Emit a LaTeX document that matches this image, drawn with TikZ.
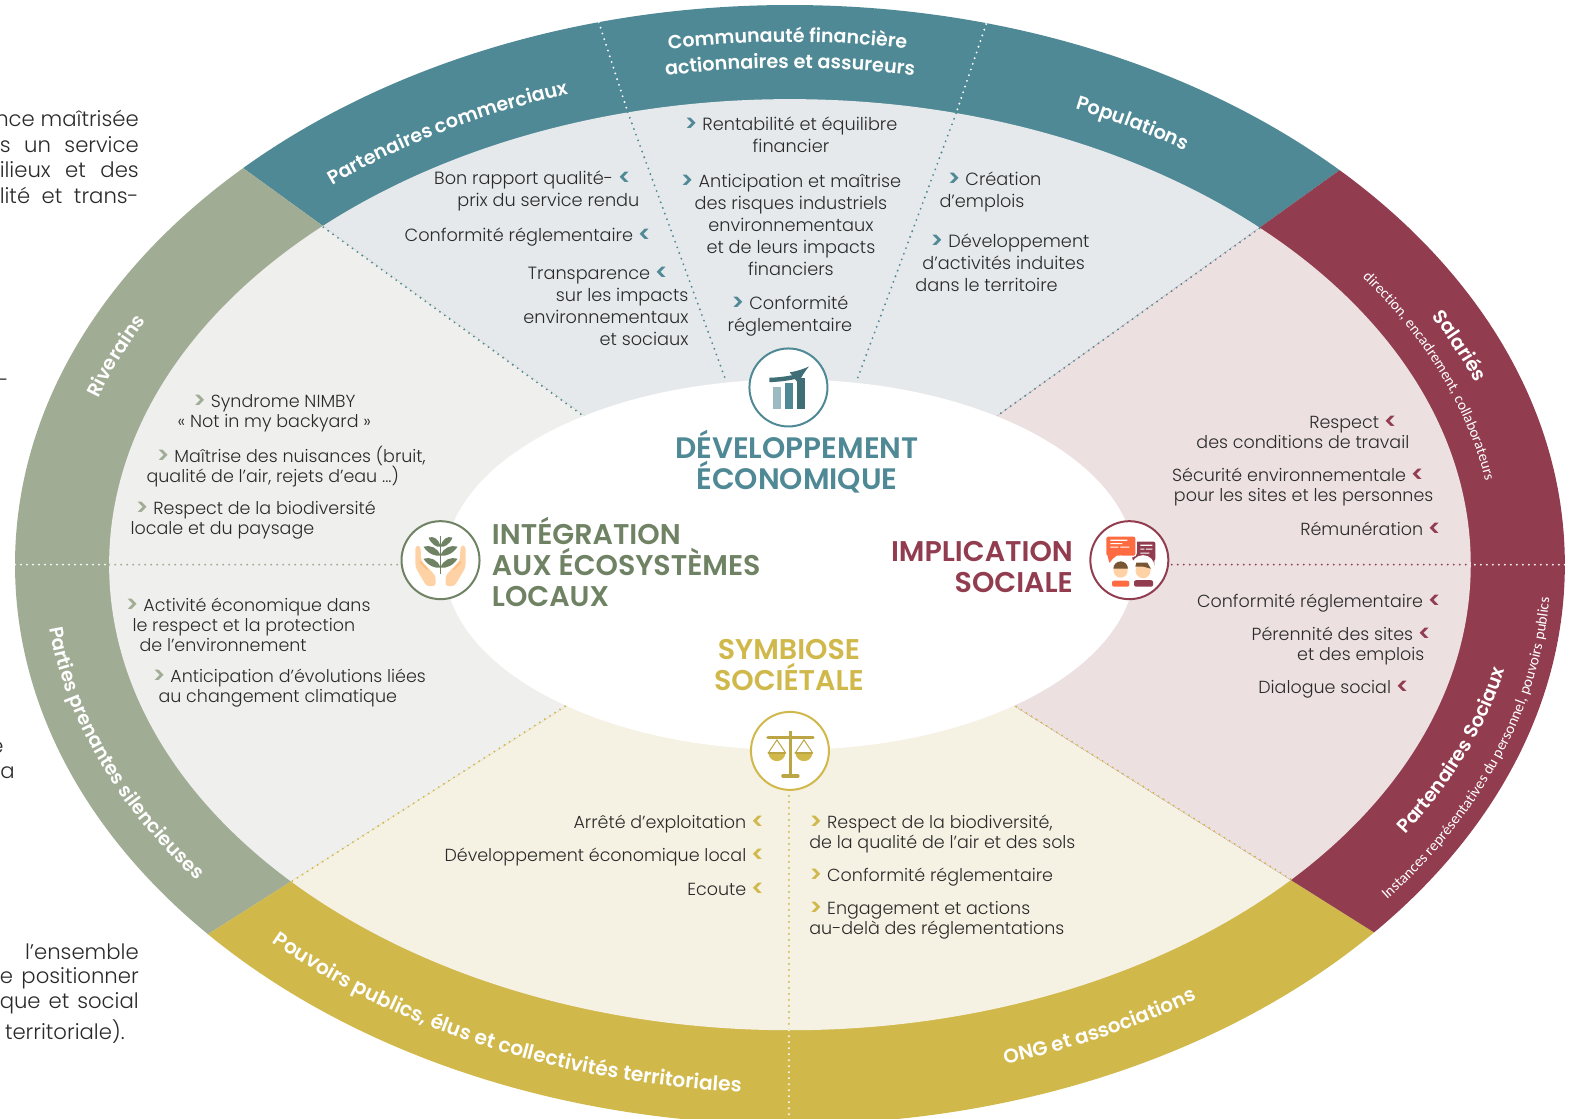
\documentclass[tikz,border=0pt]{standalone}
\usepackage{fontspec}
\setmainfont{Poppins}[UprightFont=* Light,BoldFont=* SemiBold]
\newfontfamily\narrowfont{Carlito}
\usepackage{tikz}
\usetikzlibrary{decorations.text,arrows}
\definecolor{devcol}{HTML}{4F8995}
\definecolor{ecocol}{HTML}{A1AC95}
\definecolor{ecodark}{HTML}{6F8263}
\definecolor{soccol}{HTML}{923D4F}
\definecolor{symcol}{HTML}{D0B84B}
\definecolor{devzone}{HTML}{E6E9EC}
\definecolor{ecozone}{HTML}{EFEFED}
\definecolor{soczone}{HTML}{ECE0E1}
\definecolor{symzone}{HTML}{F5F1E3}
\definecolor{bodytxt}{HTML}{2A2A2A}
\tikzset{
  toptxt/.style={font={\fontsize{8.85}{11}\selectfont},text=bodytxt,inner sep=0pt},
  restxt/.style={font={\fontsize{8.75}{10}\selectfont},text=bodytxt,inner sep=0pt},
  sidetxt/.style={font={\fontsize{10.6}{10}\selectfont},text=bodytxt,inner sep=0pt,anchor=east},
  headtxt/.style={font={\fontsize{14.25}{15.5}\selectfont\bfseries},inner sep=0pt},
  ring/.style={circle,draw,line width=1pt,fill=white,minimum size=39pt,inner sep=0pt},
  dotline/.style={line width=1.05pt,line cap=round,dash pattern=on 0pt off 3pt}
}
\newcommand{\mk}[2]{{\color{#1}\fontsize{11.5}{0}\bfseries\selectfont\raisebox{-0.5pt}{#2}}}
\newcommand{\sidefit}[1]{\hbox to 69.5pt{#1}}
% a: x radius, b: y radius, then angles, size, text
\newcommand{\bandlabel}[7][\bfseries]{%
  \def\curfont{\color{white}\fontsize{#6}{#6}#1\selectfont}%
  \path[decorate,decoration={text along path,text align=center,text={|\curfont|#7}}]
    (ctr) ++(#4:#2 and #3) arc[start angle=#4,end angle=#5,x radius=#2,y radius=#3];}
\begin{document}
\begin{tikzpicture}[x=0.5006pt,y=-0.5006pt,>=latex]
  \useasboundingbox (0pt,0pt) rectangle (785pt,-559.5pt);
  \coordinate (ctr) at (789,564);
  \coordinate (farUL) at (-303,-228);
  \coordinate (farUR) at (1887,-224);
  \coordinate (farLL) at (-373,1302);
  \coordinate (farLR) at (1955,1298);
  % the four sectors
  \foreach \ptA/\ptB/\bandcol/\zonecol in {farUL/farUR/devcol/devzone,farLL/farUL/ecocol/ecozone,farLL/farLR/symcol/symzone,farUR/farLR/soccol/soczone}{
    \begin{scope}
      \clip (ctr) -- (\ptA) -- (\ptB) -- cycle;
      \fill[\bandcol] (ctr) ellipse[x radius=774,y radius=559];
      \fill[\zonecol] (ctr) ellipse[x radius=680,y radius=465];
    \end{scope}
  }
  \fill[white] (ctr) ellipse[x radius=345,y radius=185];

  % icon rings
  \node[ring,draw=devcol] (icoDev) at (787.5,387) {};
  \node[ring,draw=ecodark] (icoEco) at (440,559.5) {};
  \node[ring,draw=soccol] (icoSoc) at (1128,559.5) {};
  \node[ring,draw=symcol] (icoSym) at (789,750) {};

  % dotted separators
  \coordinate (ulM) at (323,227); \coordinate (ulI) at (582,415);
  \coordinate (urM) at (1258,228); \coordinate (urI) at (995,416);
  \coordinate (llM) at (292,880); \coordinate (llI) at (568,703);
  \coordinate (lrM) at (1289,878); \coordinate (lrI) at (1012,704);
  \coordinate (t1O) at (598,22); \coordinate (t1M) at (627,112); \coordinate (t1I) at (725,380);
  \coordinate (t2O) at (985,24); \coordinate (t2M) at (955,113); \coordinate (t2I) at (855,382);
  \coordinate (hlO) at (15,564); \coordinate (hlM) at (109,564);
  \coordinate (hrO) at (1563,564); \coordinate (hrM) at (1470,564);
  \coordinate (vtM) at (788,1029); \coordinate (vtO) at (788,1119);
  \draw[dotline,devcol] (ulM) -- (ulI);
  \draw[dotline,devcol] (urM) -- (urI);
  \draw[dotline,symcol] (llM) -- (llI);
  \draw[dotline,symcol] (lrM) -- (lrI);
  \draw[dotline,white] (t1O) -- (t1M);
  \draw[dotline,devcol] (t1M) -- (t1I);
  \draw[dotline,white] (t2O) -- (t2M);
  \draw[dotline,devcol] (t2M) -- (t2I);
  \draw[dotline,white] (hlO) -- (hlM);
  \draw[dotline,ecocol] (hlM) -- (icoEco.west |- hlM);
  \draw[dotline,white] (hrO) -- (hrM);
  \draw[dotline,soccol] (hrM) -- (icoSoc.east |- hrM);
  \draw[dotline,symcol] (vtM |- icoSym.south) ++(0,5) -- (vtM);
  \draw[dotline,white] (vtM) -- (vtO);

  % band labels
  \bandlabel{710}{495}{213.7}{265.7}{9.6}{Partenaires commerciaux}
  \bandlabel{737}{522}{249.8}{289.8}{9.5}{Communauté financière}
  \bandlabel{711}{496}{250}{290}{9.6}{actionnaires et assureurs}
  \bandlabel{712}{497}{285}{313}{9.7}{Populations}
  \bandlabel{730}{515}{188}{218}{9.7}{Riverains}
  \bandlabel{745}{520}{186}{132}{9.6}{Parties prenantes silencieuses}
  \bandlabel{740}{528}{146}{84}{10.1}{Pouvoirs publics, élus et collectivités territoriales}
  \bandlabel{732}{522}{84}{44}{9.9}{ONG et associations}
  \bandlabel{731}{516}{320}{352}{9.7}{Salariés}
  \bandlabel[\narrowfont]{705}{490}{302.7}{376.7}{7.55}{direction, encadrement, collaborateurs}
  \bandlabel{730}{500}{43.8}{-1.2}{9.6}{Partenaires{\ }Sociaux}
  \bandlabel[\narrowfont]{760}{540}{57.8}{-20.2}{7.6}{Instances représentatives du personnel, pouvoirs publics}

  % sector headings
  \node[headtxt,text=devcol,align=center,font={\fontsize{14.8}{15.5}\selectfont\bfseries}] (headDev) at (796,461) {DÉVELOPPEMENT\\ÉCONOMIQUE};
  \node[headtxt,text=ecodark,align=left,anchor=west] (headEco) at (491,561.5) {INTÉGRATION\\AUX ÉCOSYSTÈMES\\LOCAUX};
  \node[headtxt,text=soccol,align=right,anchor=east] (headSoc) at (1072,566) {IMPLICATION\\SOCIALE};
  \node[headtxt,text=symcol,align=center] (headSym) at (788,664) {SYMBIOSE\\SOCIÉTALE};

  % economic development
  \node[toptxt,align=center] (rentab) at (790,135) {\mk{devcol}{>} Rentabilité et équilibre\\financier};
  \node[toptxt,align=center] (anticip) at (790,225) {\mk{devcol}{>} Anticipation et maîtrise\\des risques industriels\\environnementaux\\et de leurs impacts\\financiers};
  \node[toptxt,align=center] (confDev) at (789,316) {\mk{devcol}{>} Conformité\\réglementaire};
  \node[toptxt,align=left,anchor=west] (creation) at (938,192) {\hspace*{4pt}\mk{devcol}{>} Création\\d'emplois};
  \node[toptxt,align=left,anchor=west] (activ) at (914,262) {\hspace*{7.5pt}\mk{devcol}{>} Développement\\\hspace*{3.5pt}d'activités induites\\dans le territoire};
  \node[toptxt,align=right,anchor=east] (rapport) at (639,191) {Bon rapport qualité- \mk{devcol}{<}\hspace*{4pt}\\prix du service rendu};
  \node[toptxt,anchor=east] (confCom) at (651,237) {Conformité réglementaire \mk{devcol}{<}};
  \node[toptxt,align=right,anchor=east] (transp) at (688,306) {Transparence \mk{devcol}{<}\hspace*{10pt}\\sur les impacts\hspace*{8pt}\\environnementaux\hspace*{4pt}\\et sociaux};

  % local ecosystems
  \node[restxt,align=center] (nimby) at (274,413) {\mk{ecocol}{>} Syndrome NIMBY\\« Not in my backyard »};
  \node[restxt,align=left,anchor=west] (nuis) at (146,466) {\hspace*{5pt}\mk{ecocol}{>} Maîtrise des nuisances (bruit,\\qualité de l'air, rejets d'eau ...)};
  \node[restxt,align=left,anchor=west] (biodiv) at (130,519) {\hspace*{2.5pt}\mk{ecocol}{>} Respect de la biodiversité\\locale et du paysage};
  \node[restxt,align=left,anchor=west] (activEco) at (125,624) {\mk{ecocol}{>} Activité économique dans\\\hspace*{3.5pt}le respect et la protection\\\hspace*{7pt}de l'environnement};
  \node[restxt,align=left,anchor=west] (climat) at (152,687) {\mk{ecocol}{>} Anticipation d'évolutions liées\\\hspace*{3pt}au changement climatique};

  % social involvement
  \node[restxt,align=right,anchor=east] (travail) at (1408,432) {Respect \mk{soccol}{<}\hspace*{6pt}\\des conditions de travail};
  \node[restxt,align=right,anchor=east] (secur) at (1432,486) {Sécurité environnementale \mk{soccol}{<}\hspace*{4.5pt}\\pour les sites et les personnes};
  \node[restxt,anchor=east] (remun) at (1440,529) {Rémunération \mk{soccol}{<}};
  \node[restxt,anchor=east] (confSoc) at (1440,602) {Conformité réglementaire \mk{soccol}{<}};
  \node[restxt,align=right,anchor=east] (perenn) at (1430,645) {Pérennité des sites \mk{soccol}{<}\\et des emplois\hspace*{3.5pt}};
  \node[restxt,anchor=east] (dialog) at (1408,688) {Dialogue social \mk{soccol}{<}};

  % societal symbiosis
  \node[restxt,anchor=east] (arrete) at (764,823) {Arrêté d'exploitation \mk{symcol}{<}};
  \node[restxt,anchor=east] (devloc) at (764,856) {Développement économique local \mk{symcol}{<}};
  \node[restxt,anchor=east] (ecoute) at (764,889) {Ecoute \mk{symcol}{<}};
  \node[restxt,align=left,anchor=west] (respSym) at (808,833) {\mk{symcol}{>} Respect de la biodiversité,\\de la qualité de l'air et des sols};
  \node[restxt,anchor=west] (confSym) at (808,876) {\mk{symcol}{>} Conformité réglementaire};
  \node[restxt,align=left,anchor=west] (engag) at (808,919) {\mk{symcol}{>} Engagement et actions\\au-delà des réglementations};

  % text of the page cut by the picture
  \node[sidetxt] (sideA) at (139,118) {nce maîtrisée};
  \node[sidetxt] (sideB) at (139,144) {\sidefit{s\hfill un\hfill service}};
  \node[sidetxt] (sideC) at (139,169) {\sidefit{ilieux\hfill et\hfill des}};
  \node[sidetxt] (sideD) at (139,195) {\sidefit{lité\hfill et\hfill trans-}};
  \node[sidetxt] (sideE) at (9,381) {u-};
  \node[sidetxt] (sideF) at (4,745) {é};
  \node[sidetxt] (sideG) at (15,770) {la};
  \node[sidetxt] (sideH) at (139,951) {l'ensemble};
  \node[sidetxt] (sideI) at (139,977) {\sidefit{e\hfill positionner}};
  \node[sidetxt] (sideJ) at (139,1002) {\sidefit{que\hfill et\hfill social}};
  \node[sidetxt] (sideK) at (125,1030) {territoriale).};

  % growth chart
  \fill[black!5!devcol!55!white] (771.7,386.7) rectangle (780,409);
  \fill[devcol] (784,382.3) rectangle (791.7,409);
  \fill[devcol!80!black] (796,377.7) rectangle (803.7,409);
  \draw[devcol!80!black,line width=2.2pt,->] (768.5,379.5) .. controls (785,379) and (795,376) .. (808,366);

  % plant in hands
  \draw[ecodark,line width=0.8pt] (440,535) -- (440,573);
  \foreach \ly/\ls in {540/0.6,549/0.85,561/0.85}{
    \fill[ecodark] (440,\ly+6) .. controls (440-6*\ls,\ly+7) and (440-15*\ls,\ly+4) .. (440-20*\ls,\ly-3) .. controls (440-12*\ls,\ly-5) and (440-3*\ls,\ly-2) .. cycle;
    \fill[ecodark] (440,\ly+6) .. controls (440+6*\ls,\ly+7) and (440+15*\ls,\ly+4) .. (440+20*\ls,\ly-3) .. controls (440+12*\ls,\ly-5) and (440+3*\ls,\ly-2) .. cycle;
  }
  \foreach \sgn in {-1,1}{
    \fill[orange!35!white,rounded corners=1.5pt] (440+\sgn*25,545) -- (440+\sgn*20,545) -- (440+\sgn*19.3,560) -- (440+\sgn*5,575) -- (440+\sgn*5,585.5) -- (440+\sgn*14,585.5) -- (440+\sgn*25,566.7) -- cycle;
    \draw[orange!55!white,line width=0.6pt] (440+\sgn*20.5,561) -- (440+\sgn*13,569);
  }

  % two people talking
  \fill[soccol,rounded corners=1pt] (1131,541) rectangle (1154,560);
  \fill[soccol] (1146,559) -- (1153,565) -- (1153,559) -- cycle;
  \fill[white] (1139,544) rectangle (1151,545.2) (1139,548) rectangle (1143,549) (1144.5,548) rectangle (1151,549) (1139,552) rectangle (1148,553);
  \fill[white,rounded corners=2pt] (1103.5,534.5) rectangle (1135.5,556.5);
  \fill[orange!45!red!75!white,rounded corners=1pt] (1105,536) rectangle (1134,555);
  \fill[orange!45!red!75!white] (1106,554) -- (1108,562) -- (1116,554) -- cycle;
  \fill[white] (1109,539) rectangle (1126,540.2) (1109,542.5) rectangle (1121,543.5) (1109,546) rectangle (1117,547) (1119,546) rectangle (1128,547);
  \fill[white] (1119.3,566) circle (11) (1141.7,566) circle (11.5);
  \fill[orange!35!white] (1119.3,570) circle (7) (1141.7,570) circle (7.5);
  \fill[black!55!orange!60!gray] (1112,568) arc[start angle=180,end angle=360,radius=7.3] -- cycle;
  \fill[black!55!orange!60!gray] (1134,566) -- (1135,562) -- (1146,562) -- (1149.5,568) -- (1142,566) -- cycle;
  \fill[orange!45!red!75!white,rounded corners=1pt] (1110.7,586) -- (1110.7,580) -- (1128,580) -- (1128,586) -- cycle;
  \fill[soccol,rounded corners=1pt] (1132.7,586) -- (1132.7,579.5) -- (1151.7,579.5) -- (1151.7,586) -- cycle;

  % balance
  \draw[symcol!90!black,line width=1.7pt] (789.3,730) -- (789.3,775);
  \draw[symcol!90!black,line width=1.7pt,line cap=round] (767,736.7) -- (812,736.7);
  \draw[symcol!90!black,line width=1.7pt,line cap=round] (782,775) -- (797,775);
  \foreach \px in {776,803}{
    \draw[symcol!90!black,line width=0.5pt] (\px-8,751) -- (\px,739) -- (\px+8,751);
    \fill[symcol] (\px-8.5,751.7) .. controls (\px-8,763) and (\px+8,763) .. (\px+8.5,751.7) -- cycle;
    \draw[symcol!90!black,line width=1pt,line cap=round] (\px-8.5,751.7) -- (\px+8.5,751.7);
  }
\end{tikzpicture}
\end{document}
